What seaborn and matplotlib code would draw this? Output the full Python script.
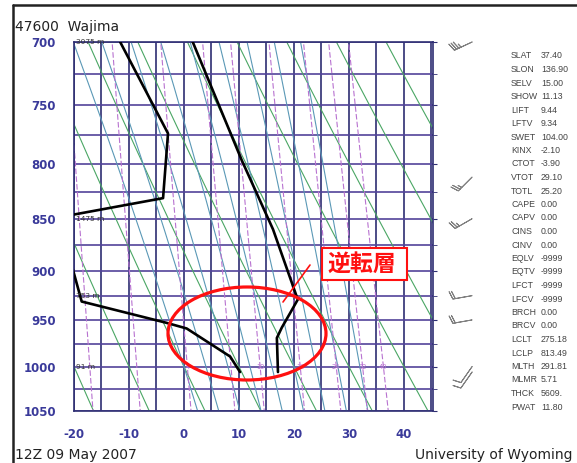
import numpy as np
import pandas as pd
import matplotlib
matplotlib.use("Agg")
import matplotlib.pyplot as plt
import seaborn as sns
from matplotlib.patches import Ellipse, Rectangle
from matplotlib.lines import Line2D
from matplotlib.ticker import NullFormatter, FixedLocator

# ---------------- data ----------------
temp_pressure = [1006, 969, 958, 943, 929, 860, 797, 700]
temperature = [17.1, 16.9, 17.8, 19.3, 20.7, 16.2, 10.5, 1.6]
dew_pressure = [1006, 989, 959, 953, 931, 893, 870, 848, 831, 774, 700]
dewpoint = [10.2, 8.4, 0.5, -3.2, -18.6, -20.5, -35.0, -22.0, -3.8, -2.9, -11.6]

pressure_ticks = [700, 750, 800, 850, 900, 950, 1000, 1050]
temp_ticks = [-20, -10, 0, 10, 20, 30, 40]

height_pressure = [700, 850, 925, 1000]
height_labels = ["3075 m", "1475 m", "753 m", "91 m"]

wind_pressure = [700, 812, 850, 925, 950, 1000, 1006]
wind_dir = [245, 225, 240, 260, 260, 215, 215]
wind_speed = [35, 25, 25, 20, 20, 10, 10]

dry_theta = [-20, -10, 0, 10, 20, 30, 40, 50, 60, 70]
moist_theta_w = [0, 4, 8, 12, 16, 20, 24, 28, 32]
mixing_ratios = [1, 2, 4, 7, 10, 16, 24, 32, 40]
labeled_ratios = [4, 10, 16, 24, 32, 40]

index_names = ["SLAT", "SLON", "SELV", "SHOW", "LIFT", "LFTV", "SWET", "KINX",
               "CTOT", "VTOT", "TOTL", "CAPE", "CAPV", "CINS", "CINV", "EQLV",
               "EQTV", "LFCT", "LFCV", "BRCH", "BRCV", "LCLT", "LCLP", "MLTH",
               "MLMR", "THCK", "PWAT"]
index_values = ["37.40", "136.90", "15.00", "11.13", "9.44", "9.34", "104.00", "-2.10",
                "-3.90", "29.10", "25.20", "0.00", "0.00", "0.00", "0.00", "-9999",
                "-9999", "-9999", "-9999", "0.00", "0.00", "275.18", "813.49", "291.81",
                "5.71", "5609.", "11.80"]

# ---------------- style ----------------
sns.set_style("white")
plt.rcParams['font.family'] = ['DejaVu Sans', 'Noto Sans CJK JP']

W, H = 577, 463
fig = plt.figure(figsize=(W / 100, H / 100), dpi=100)
fig.patch.set_facecolor("white")


def fx(px):
    return px / W


def fy(py):
    return 1 - py / H


GRID_V = "#2e2e72"
GRID_H = "#53439a"
GREEN = "#4aa664"
MOIST = "#5a98b6"
PURPLE = "#b872d0"

ax = fig.add_axes([fx(74), fy(411), (433 - 74) / W, (411 - 42) / H])
ax.set_yscale("log")
ax.set_ylim(1050, 700)
ax.set_xlim(-20, 45.3)

# grid: isotherms & isobars
for t in range(-20, 46, 5):
    ax.axvline(t, color=GRID_V, lw=1.2, zorder=1)
for p in range(700, 1051, 25):
    ax.axhline(p, color=GRID_H, lw=1.2, zorder=1)

pp = np.linspace(690, 1060, 200)

# dry adiabats
for th in dry_theta:
    tt = (th + 273.15) * (pp / 1000.0) ** 0.2857 - 273.15
    ax.plot(tt, pp, color=GREEN, lw=0.8, zorder=2)

# moist adiabats
Rd, cp, Lv, eps = 287.04, 1005.7, 2.501e6, 0.622


def es(tc):
    return 6.112 * np.exp(17.67 * tc / (tc + 243.5))


def dtdp(p, T):
    e = es(T - 273.15)
    rs = eps * e / (p - e)
    num = Rd * T + Lv * rs
    den = cp + Lv ** 2 * rs * eps / (Rd * T ** 2)
    return num / (p * den)


def integrate(t0, p_end, step):
    ps = [1000.0]
    ts = [t0 + 273.15]
    p, T = 1000.0, t0 + 273.15
    while (step < 0 and p > p_end) or (step > 0 and p < p_end):
        k1 = dtdp(p, T)
        k2 = dtdp(p + step, T + step * k1)
        T = T + step * 0.5 * (k1 + k2)
        p = p + step
        ps.append(p)
        ts.append(T)
    return np.array(ps), np.array(ts) - 273.15


for tw in moist_theta_w:
    pu, tu = integrate(tw, 690, -2.0)
    pd_, td_ = integrate(tw, 1060, 2.0)
    pl = np.concatenate([pd_[::-1], pu[1:]])
    tl = np.concatenate([td_[::-1], tu[1:]])
    ax.plot(tl, pl, color=MOIST, lw=0.8, zorder=2)


def td_of_w(w, p):
    e = w * p / (622.0 + w)
    lg = np.log(e / 6.112)
    return 243.5 * lg / (17.67 - lg)


# mixing ratio lines
for w in mixing_ratios:
    ax.plot(td_of_w(w, pp), pp, color=PURPLE, lw=0.8, dashes=(5, 2), zorder=2)
for w in labeled_ratios:
    ax.text(td_of_w(w, 1000.0), 1000, str(w), color=PURPLE, fontsize=4.8,
            ha="center", va="center", zorder=3)

# profiles
df_T = pd.DataFrame({"p": temp_pressure, "T": temperature})
df_D = pd.DataFrame({"p": dew_pressure, "Td": dewpoint})
sns.lineplot(data=df_T, x="T", y="p", sort=False, estimator=None, color="black",
             lw=1.9, ax=ax, zorder=5)
sns.lineplot(data=df_D, x="Td", y="p", sort=False, estimator=None, color="black",
             lw=1.9, ax=ax, zorder=5)
ax.set_yscale("log")
ax.set_ylim(1050, 700)
ax.set_xlim(-20, 45.3)

# height labels
for p, lab in zip(height_pressure, height_labels):
    ax.text(-19.6, p, lab, fontsize=5.3, color="#333333", va="center", ha="left", zorder=6)

# axes formatting
ax.yaxis.set_major_locator(FixedLocator(pressure_ticks))
ax.yaxis.set_minor_locator(FixedLocator(list(range(725, 1050, 50))))
ax.yaxis.set_minor_formatter(NullFormatter())
ax.set_yticklabels([str(p) for p in pressure_ticks])
ax.set_xticks(temp_ticks)
ax.set_xticklabels([str(t) for t in temp_ticks])
ax.tick_params(axis="both", length=0, labelcolor="#3a3a9a", labelsize=8.5)
ax.tick_params(axis="y", which="both", left=False, right=True, labelleft=True,
               labelright=False, length=3, color=GRID_V, direction="out", pad=10)
ax.tick_params(axis="y", which="minor", labelleft=False)
ax.tick_params(axis="x", pad=12)
for lab in ax.get_xticklabels() + ax.get_yticklabels():
    lab.set_fontweight("bold")
ax.set_xlabel("")
ax.set_ylabel("")
for s in ax.spines.values():
    s.set_color(GRID_V)
    s.set_linewidth(1.2)

# wind barbs
axb = fig.add_axes([fx(435), fy(411), 70 / W, (411 - 42) / H])
axb.set_yscale("log")
axb.set_ylim(1050, 700)
axb.set_xlim(0, 1)
axb.axis("off")
d = np.deg2rad(np.array(wind_dir, dtype=float))
spd = np.array(wind_speed, dtype=float)
u = -spd * np.sin(d)
v = -spd * np.cos(d)
axb.barbs(np.full(len(wind_pressure), 0.53), np.array(wind_pressure, dtype=float), u, v,
          length=5.3, color="#808080", lw=0.7, pivot="tip", clip_on=False)

# index list
for i, (n, val) in enumerate(zip(index_names, index_values)):
    y = 56 + i * 13.5
    fig.text(fx(511), fy(y), n, fontsize=6.3, va="center", ha="left",
             family="Liberation Sans", color="#444444")
    fig.text(fx(541), fy(y), val, fontsize=6.3, va="center", ha="left",
             family="Liberation Sans", color="#444444")

# titles
fig.text(fx(15), fy(27), "47600  Wajima", fontsize=10, va="center", ha="left", color="#222222")
fig.text(fx(15), fy(455), "12Z 09 May 2007", fontsize=10, va="center", ha="left", color="#222222")
fig.text(fx(415), fy(455), "University of Wyoming", fontsize=10, va="center", ha="left",
         color="#222222")

# frame lines
fig.add_artist(Line2D([fx(13), 1], [fy(5), fy(5)], color="#222222", lw=1.8,
                      transform=fig.transFigure))
fig.add_artist(Line2D([fx(13), fx(13)], [fy(5), 0], color="#222222", lw=1.8,
                      transform=fig.transFigure))

# red annotation
ax.add_patch(Ellipse(((247 - 74) / 359, (411 - 333.5) / 369), 158 / 359, 93 / 369,
                     transform=ax.transAxes, fill=False, ec="#ff1010", lw=2.3,
                     clip_on=False, zorder=8))
fig.add_artist(Line2D([fx(310), fx(283)], [fy(265), fy(302)], color="#ff1010", lw=1.2,
                      transform=fig.transFigure))
fig.add_artist(Rectangle((fx(322), fy(280)), 85 / W, 32 / H, transform=fig.transFigure,
                         fc="white", ec="#ff1010", lw=1.5))
fig.text(fx(362), fy(264), "逆転層", fontsize=16.5, fontweight="bold", color="#ff1010",
         ha="center", va="center", family=["Noto Sans CJK JP", "DejaVu Sans"])

fig.savefig("out.png", dpi=100)
